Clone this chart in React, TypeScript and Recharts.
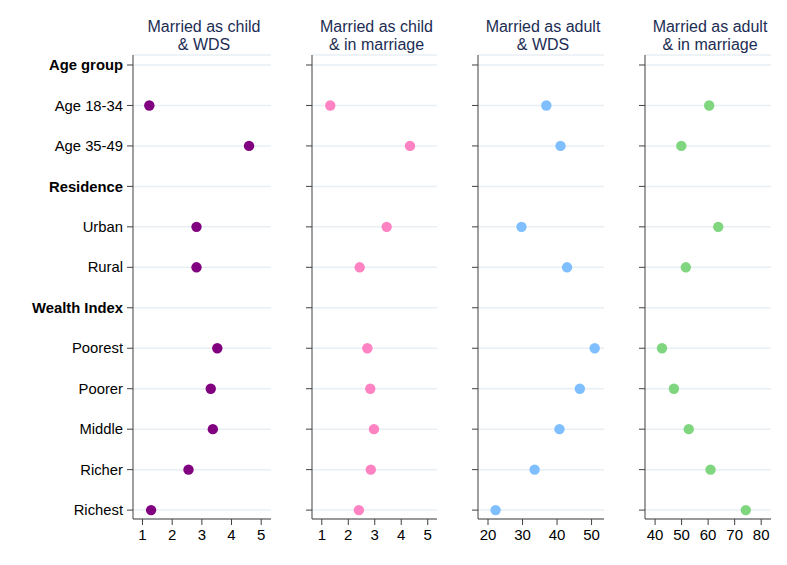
import React from "react";
import { ScatterChart, Scatter, XAxis, YAxis, CartesianGrid } from "recharts";

const categories = [
  "Age group",
  "Age 18-34",
  "Age 35-49",
  "Residence",
  "Urban",
  "Rural",
  "Wealth Index",
  "Poorest",
  "Poorer",
  "Middle",
  "Richer",
  "Richest",
];
const headerRows = ["Age group", "Residence", "Wealth Index"];

const childWds = [null, 1.23, 4.59, null, 2.82, 2.82, null, 3.52, 3.3, 3.37, 2.55, 1.29];
const childMarriage = [null, 1.32, 4.33, null, 3.45, 2.43, null, 2.72, 2.83, 2.97, 2.85, 2.4];
const adultWds = [null, 36.9, 41.0, null, 29.7, 42.9, null, 50.9, 46.6, 40.7, 33.5, 22.2];
const adultMarriage = [null, 60.4, 49.9, null, 63.8, 51.6, null, 42.6, 47.1, 52.7, 60.9, 74.2];

const childTicks = [1, 2, 3, 4, 5];
const adultWdsTicks = [20, 30, 40, 50];
const adultMarriageTicks = [40, 50, 60, 70, 80];

const FONT = '"Liberation Sans", Arial, Helvetica, sans-serif';
const AXIS = "#404040";
const GRID = "#e8eff4";
const PLOT_TOP = 55;
const PLOT_BOTTOM = 519;
const H = 565;

const toPoints = (vals: (number | null)[]) =>
  vals
    .map((v, i) => (v == null ? null : { x: v, y: i }))
    .filter((p) => p !== null) as { x: number; y: number }[];

const CategoryTick = (props: any) => {
  const { x, y, payload } = props;
  const label = categories[payload.value];
  const bold = headerRows.includes(label);
  return (
    <text
      x={x}
      y={y}
      dy="0.35em"
      textAnchor="end"
      fontFamily={FONT}
      fontSize={14.8}
      fontWeight={bold ? "bold" : "normal"}
      fill="#000"
    >
      {label}
    </text>
  );
};

// no labels on the inner panels, but keep the tick marks and grid
const EmptyTick = () => <g />;

const panels = [
  {
    title: ["Married as child", "& WDS"],
    values: childWds,
    color: "#800080",
    domain: [0.68, 5.33],
    ticks: childTicks,
    left: 133,
    right: 271,
    labels: true,
  },
  {
    title: ["Married as child", "& in marriage"],
    values: childMarriage,
    color: "#ff82c3",
    domain: [0.63, 5.35],
    ticks: childTicks,
    left: 312,
    right: 437,
    labels: false,
  },
  {
    title: ["Married as adult", "& WDS"],
    values: adultWds,
    color: "#80bfff",
    domain: [17.1, 53.6],
    ticks: adultWdsTicks,
    left: 478,
    right: 604,
    labels: false,
  },
  {
    title: ["Married as adult", "& in marriage"],
    values: adultMarriage,
    color: "#7fd67f",
    domain: [36.2, 83.7],
    ticks: adultMarriageTicks,
    left: 645,
    right: 771,
    labels: false,
  },
];

function Panel({ p }: { p: (typeof panels)[number] }) {
  const chartLeft = p.labels ? 0 : p.left - 20;
  const yWidth = p.left - chartLeft;
  const width = p.right - chartLeft + 10;
  const xHeight = 30;
  const data = toPoints(p.values);
  return (
    <div style={{ position: "absolute", left: chartLeft, top: 0 }}>
      <ScatterChart
        width={width}
        height={H}
        margin={{ top: PLOT_TOP, right: 10, bottom: H - PLOT_BOTTOM - xHeight, left: 0 }}
      >
        <CartesianGrid vertical={false} stroke={GRID} strokeWidth={1.5} />
        <XAxis
          type="number"
          dataKey="x"
          domain={p.domain}
          ticks={p.ticks}
          height={xHeight}
          allowDataOverflow
          stroke={AXIS}
          tickSize={6}
          tickMargin={4}
          tick={{ fill: "#000", fontSize: 15, fontFamily: FONT }}
        />
        <YAxis
          type="number"
          dataKey="y"
          domain={[-0.247, 11.22]}
          ticks={categories.map((_, i) => i)}
          reversed
          interval={0}
          width={yWidth}
          allowDataOverflow
          stroke={AXIS}
          tickSize={6}
          tickMargin={4}
          tick={p.labels ? <CategoryTick /> : <EmptyTick />}
        />
        <Scatter
          data={data}
          fill={p.color}
          isAnimationActive={false}
          shape={(s: any) => <circle cx={s.cx} cy={s.cy} r={5.2} fill={p.color} />}
        />
      </ScatterChart>
      <div
        style={{
          position: "absolute",
          left: p.left - chartLeft + 2,
          width: p.right - p.left,
          top: 18,
          textAlign: "center",
          fontFamily: FONT,
          fontSize: 16,
          lineHeight: "18px",
          color: "#1c2d54",
          whiteSpace: "nowrap",
        }}
      >
        {p.title[0]}
        <br />
        {p.title[1]}
      </div>
    </div>
  );
}

export default function App() {
  return (
    <div
      style={{
        position: "absolute",
        left: 0,
        top: 0,
        width: 787,
        height: H,
        background: "#fff",
        overflow: "hidden",
      }}
    >
      {panels.map((p, i) => (
        <Panel key={i} p={p} />
      ))}
    </div>
  );
}
